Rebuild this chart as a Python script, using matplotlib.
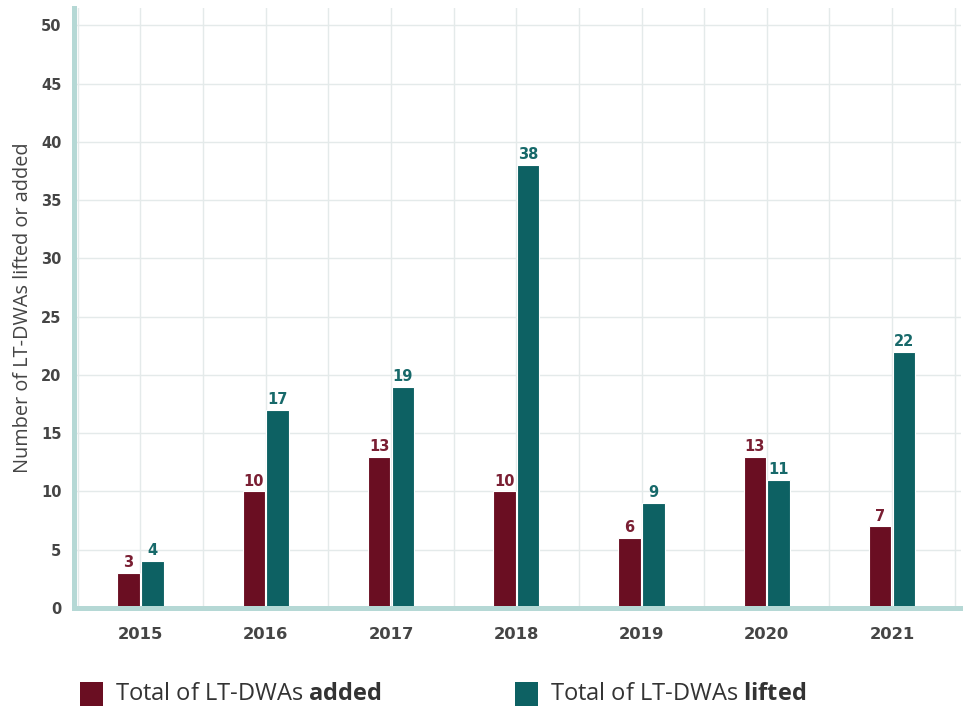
import matplotlib
matplotlib.use("Agg")
import matplotlib.pyplot as plt
import numpy as np
from matplotlib.patches import Rectangle

years = ["2015", "2016", "2017", "2018", "2019", "2020", "2021"]
added = [3, 10, 13, 10, 6, 13, 7]
lifted = [4, 17, 19, 38, 9, 11, 22]
y_ticks = [0, 5, 10, 15, 20, 25, 30, 35, 40, 45, 50]

RED = "#6a0e22"
TEAL = "#0d6163"
RED_TXT = "#7a1f33"
TEAL_TXT = "#17696a"
SPINE = "#b5d8d5"
GRID = "#e4eaea"
TICK_TXT = "#454545"

plt.rcParams["mathtext.fontset"] = "custom"
plt.rcParams["mathtext.rm"] = "Open Sans"
plt.rcParams["mathtext.bf"] = "Open Sans:bold"

W, H = 963, 706
fig = plt.figure(figsize=(W / 100, H / 100), dpi=100)
ax = fig.add_axes([74 / W, 98 / H, (961 - 74) / W, 600 / H])

x = np.arange(len(years))
bw = 0.18
off = 0.095

b1 = ax.bar(x - off, added, width=bw, color=RED, edgecolor="white", linewidth=0.8, zorder=3)
b2 = ax.bar(x + off, lifted, width=bw, color=TEAL, edgecolor="white", linewidth=0.8, zorder=3)

for bars, vals, c in ((b1, added, RED_TXT), (b2, lifted, TEAL_TXT)):
    for bar, v in zip(bars, vals):
        ax.text(bar.get_x() + bar.get_width() / 2, v + 0.25, str(v),
                ha="center", va="bottom", fontsize=10.5, fontweight="bold",
                color=c, family="DejaVu Sans", zorder=4)

ax.set_xlim(-0.53, 6.55)
ax.set_ylim(0, 51.5)
ax.set_yticks(y_ticks)
ax.set_xticks(x)
ax.set_xticklabels(years)
ax.set_xticks(np.arange(-0.5, 7.0, 1.0), minor=True)

ax.grid(True, which="both", axis="x", color=GRID, linewidth=1, zorder=0)
ax.grid(True, which="major", axis="y", color=GRID, linewidth=1, zorder=0)
ax.set_axisbelow(True)

for s in ("top", "right"):
    ax.spines[s].set_visible(False)
for s in ("left", "bottom"):
    ax.spines[s].set_color(SPINE)
    ax.spines[s].set_linewidth(3.6)
    ax.spines[s].set_zorder(5)

ax.tick_params(axis="both", which="both", length=0)
ax.tick_params(axis="y", pad=9)
ax.tick_params(axis="x", pad=14)
for lbl in ax.get_yticklabels():
    lbl.set_fontweight("bold")
    lbl.set_fontsize(10.5)
    lbl.set_color(TICK_TXT)
for lbl in ax.get_xticklabels():
    lbl.set_fontweight("bold")
    lbl.set_fontsize(11.8)
    lbl.set_color(TICK_TXT)

ax.set_ylabel("Number of LT-DWAs lifted or added", fontsize=14.3,
              family="Open Sans", color="#444444", labelpad=6)

# legend drawn by hand to get the mixed bold labels
for px, col, label in ((80, RED, r"Total of LT-DWAs $\mathbf{added}$"),
                       (515, TEAL, r"Total of LT-DWAs $\mathbf{lifted}$")):
    fig.patches.append(Rectangle((px / W, 0), 23 / W, 24 / H, transform=fig.transFigure,
                                 facecolor=col, edgecolor="none"))
    fig.text((px + 35) / W, 12 / H, label, fontsize=17, family="Open Sans",
             color="#333333", va="center", ha="left")

fig.savefig("out.png", dpi=100, facecolor="white")
